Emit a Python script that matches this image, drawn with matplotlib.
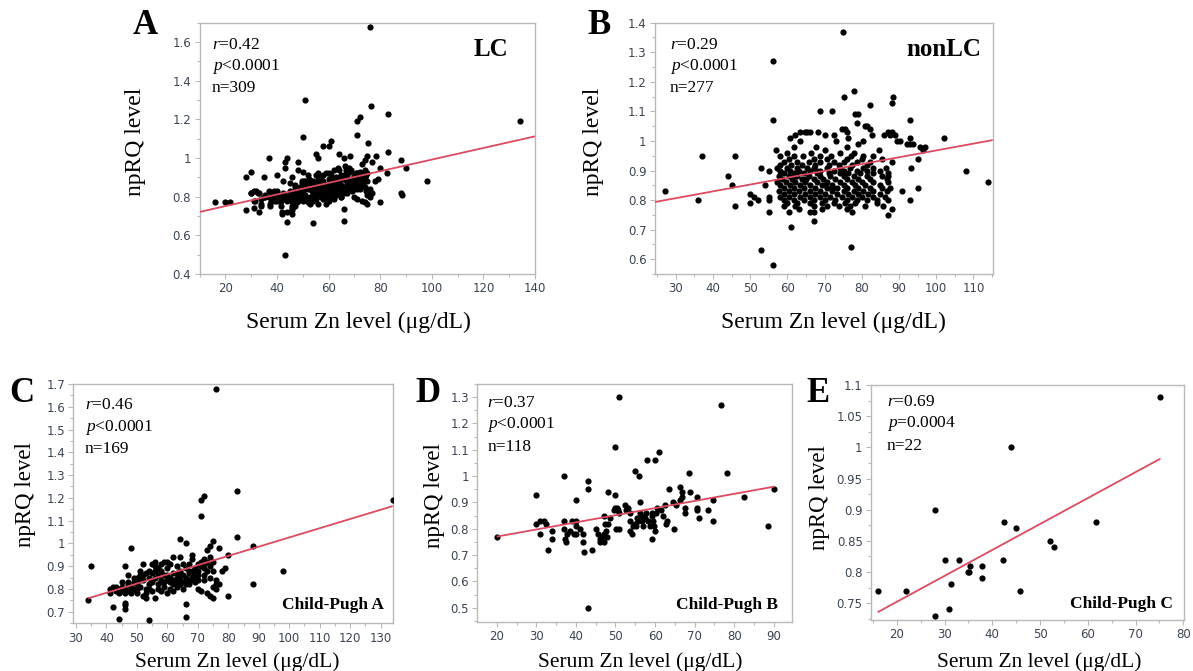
import numpy as np
import matplotlib
matplotlib.use('Agg')
import matplotlib.pyplot as plt
from matplotlib.ticker import MultipleLocator, FuncFormatter

plt.rcParams['mathtext.fontset'] = 'custom'
plt.rcParams['mathtext.rm'] = 'Liberation Serif'
plt.rcParams['mathtext.it'] = 'Liberation Serif:italic'
plt.rcParams['mathtext.bf'] = 'Liberation Serif:bold'

# ---------------- data ----------------
# Child-Pugh A (n=169)
cpA_points = [
    (34, 0.75), (35, 0.90), (41, 0.78), (41, 0.80), (42, 0.72), (42, 0.81), (44, 0.67), (46, 0.71), (46, 0.73), (46, 0.74),
    (46, 0.90), (47, 0.82), (47, 0.83), (48, 0.98), (48, 0.78), (48, 0.79), (49, 0.85), (50, 0.80), (50, 0.78), (50, 0.82),
    (51, 0.84), (51, 0.88), (52, 0.86), (52, 0.91), (52, 0.77), (53, 0.78), (53, 0.80), (53, 0.76), (54, 0.665), (54, 0.88),
    (54, 0.85), (55, 0.83), (55, 0.87), (55, 0.91), (56, 0.92), (56, 0.90), (56, 0.85), (56, 0.76), (57, 0.89), (57, 0.82),
    (57, 0.80), (58, 0.83), (58, 0.79), (58, 0.88), (59, 0.92), (59, 0.86), (59, 0.81), (60, 0.92), (60, 0.84), (60, 0.78),
    (60, 0.89), (61, 0.91), (61, 0.85), (61, 0.83), (61, 0.80), (62, 0.94), (62, 0.87), (62, 0.82), (62, 0.79), (63, 0.90),
    (63, 0.85), (63, 0.83), (63, 0.81), (64, 1.02), (64, 0.94), (64, 0.88), (64, 0.84), (64, 0.82), (65, 0.91), (65, 0.86),
    (65, 0.83), (65, 0.80), (66, 1.00), (66, 0.735), (66, 0.675), (66, 0.89), (66, 0.85), (66, 0.82), (67, 0.88), (67, 0.84),
    (67, 0.87), (68, 0.95), (68, 0.93), (68, 0.88), (68, 0.86), (69, 0.87), (69, 0.85), (69, 0.89), (70, 0.88), (70, 0.86),
    (70, 0.91), (70, 0.80), (71, 1.19), (71, 1.12), (71, 0.92), (71, 0.90), (71, 0.79), (72, 1.21), (72, 0.93), (72, 0.89),
    (72, 0.86), (72, 0.84), (73, 0.97), (73, 0.92), (73, 0.88), (73, 0.78), (74, 0.99), (74, 0.90), (74, 0.85), (74, 0.77),
    (75, 1.01), (75, 0.88), (75, 0.76), (75, 0.81), (76, 1.68), (76, 0.84), (76, 0.82), (76, 0.80), (77, 0.98), (77, 0.82),
    (79, 0.89), (80, 0.95), (80, 0.77), (83, 1.23), (83, 1.03), (88, 0.99), (88, 0.82), (98, 0.88), (134, 1.19),
    (43, 0.79), (43, 0.81), (44, 0.78), (44, 0.80), (45, 0.79), (45, 0.83), (46, 0.80), (46, 0.78), (47, 0.79), (48, 0.81),
    (49, 0.83), (49, 0.80), (50, 0.85), (51, 0.86), (51, 0.81), (52, 0.84), (53, 0.87), (54, 0.82), (54, 0.80), (55, 0.79),
    (57, 0.86), (58, 0.84), (59, 0.83), (60, 0.86), (62, 0.84), (63, 0.87), (67, 0.82), (68, 0.84), (69, 0.83), (70, 0.84),
    (72, 0.91), (74, 0.94), (75, 0.92), (78, 0.88), (45, 0.81), (47, 0.86), (56, 0.88), (58, 0.91), (64, 0.86), (67, 0.91),
]

# Child-Pugh B (n=118)
cpB_points = [
    (20, 0.77), (30, 0.93), (30, 0.82), (31, 0.78), (31, 0.83), (32, 0.83), (32.5, 0.82), (33, 0.72), (34, 0.79), (34, 0.76),
    (37, 1.00), (37, 0.83), (37, 0.80), (37.2, 0.76), (37.5, 0.75), (37.7, 0.78), (38.5, 0.79), (39, 0.83), (40, 0.83), (40, 0.81),
    (40, 0.78), (40, 0.91), (39.4, 0.78), (41, 0.80), (41.7, 0.78), (41.7, 0.75), (42, 0.71), (43, 0.98), (43, 0.95), (43, 0.50),
    (44, 0.72), (45.2, 0.80), (45.7, 0.78), (46.1, 0.76), (46, 0.75), (46.5, 0.77), (47, 0.75), (47.1, 0.78), (47.6, 0.79), (47.9, 0.77),
    (48, 0.94), (47, 0.85), (47.3, 0.82), (48.2, 0.82), (50, 0.93), (49.6, 0.87), (49.9, 0.88), (50.3, 0.88), (50.7, 0.87), (51, 0.86),
    (50, 1.11), (51, 1.30), (50.1, 0.80), (51, 0.80), (52.4, 0.89), (52.6, 0.87), (53.2, 0.88), (53.7, 0.86), (53.7, 0.83), (53.7, 0.79),
    (54.1, 0.78), (54.5, 0.81), (54.9, 0.82), (55.3, 0.81), (55.8, 0.83), (55, 1.02), (56, 1.00), (56.2, 0.90), (56.3, 0.86), (56.6, 0.85),
    (56.8, 0.83), (57, 0.81), (58, 1.06), (60, 1.06), (57.7, 0.86), (58.3, 0.83), (58.7, 0.81), (59.1, 0.86), (59.3, 0.85), (59.1, 0.76),
    (59.5, 0.83), (59.7, 0.81), (59.9, 0.79), (60.2, 0.86), (60.4, 0.88), (61, 1.09), (61.6, 0.87), (62.1, 0.85), (62.7, 0.82), (62.9, 0.83),
    (63.6, 0.95), (62.5, 0.89), (64.6, 0.90), (64.8, 0.80), (65.4, 0.89), (66.4, 0.96), (66.9, 0.94), (67.5, 0.88), (67.5, 0.86), (66.4, 0.91),
    (66.9, 0.92), (68.5, 1.01), (68.8, 0.94), (70.5, 0.92), (70.5, 0.88), (70.6, 0.87), (71.2, 0.84), (73.4, 0.87), (74.5, 0.91), (74.5, 0.83),
    (76.6, 1.27), (78.2, 1.01), (82.5, 0.92), (88.6, 0.81), (90.1, 0.95), (55.5, 0.84), (57.5, 0.84), (48.5, 0.84),
]

# Child-Pugh C (n=22)
cpC_points = [
    (16, 0.77), (22, 0.77), (28, 0.73), (28, 0.90), (30, 0.82), (31, 0.74), (31.4, 0.78), (33, 0.82), (35, 0.80), (35.4, 0.81),
    (37.9, 0.81), (37.9, 0.79), (42.3, 0.82), (42.5, 0.88), (43.9, 1.00), (44.9, 0.87), (45.9, 0.77), (52, 0.85), (53, 0.84), (61.7, 0.88),
    (75.2, 1.08), (35.2, 0.80),
]

# LC = Child-Pugh A + B + C (n=309)
lc_points = cpA_points + cpB_points + cpC_points

# nonLC (n=277)
nonlc_points = [
    (27, 0.83), (36, 0.80), (37, 0.95), (44, 0.88), (45, 0.85), (46, 0.95), (46, 0.78), (50, 0.82), (50, 0.79), (51, 0.81),
    (52, 0.80), (53, 0.91), (53, 0.63), (54, 0.85), (55, 0.90), (55, 0.81), (55, 0.80), (55, 0.76), (56, 1.27), (56, 1.07), (56, 0.58),
    (75.1, 1.15), (88.5, 1.15), (78.0, 1.17), (88.0, 1.13), (82.1, 1.12), (68.8, 1.10), (72.0, 1.10), (78.2, 1.09), (79.1, 1.09),
    (92.9, 1.07), (78.8, 1.06), (80.9, 1.05), (81.5, 1.05), (74.6, 1.04), (75.5, 1.04), (82.2, 1.04),
    (63.5, 1.03), (64.6, 1.03), (65.4, 1.03), (66.2, 1.03), (68.1, 1.03), (76.0, 1.03), (87.1, 1.03), (88.0, 1.03),
    (62.1, 1.02), (70.2, 1.02), (72.4, 1.02), (82.7, 1.02), (86.1, 1.02), (87.5, 1.02), (89.0, 1.02),
    (60.8, 1.01), (76.4, 1.01), (92.9, 1.01), (102.1, 1.01),
    (63.3, 1.00), (73.1, 1.00), (80.4, 1.00), (89.4, 1.00), (90.3, 1.00),
    (79.1, 0.99), (92.1, 0.99), (92.9, 0.99), (93.8, 0.99),
    (61.7, 0.98), (67.8, 0.98), (76.0, 0.98), (95.6, 0.98), (97.0, 0.98),
    (57.0, 0.97), (70.2, 0.97), (84.5, 0.97), (96.5, 0.97),
    (59.9, 0.96), (66.3, 0.96), (74.2, 0.96), (77.8, 0.96),
    (58.1, 0.95), (61.7, 0.95), (64.2, 0.95), (68.8, 0.95), (71.7, 0.95), (77.1, 0.95), (80.4, 0.95), (83.1, 0.95),
    (60.4, 0.94), (67.1, 0.94), (70.6, 0.94), (76.0, 0.94), (80.0, 0.94), (85.4, 0.94), (95.2, 0.94),
    (59.0, 0.93), (62.6, 0.93), (65.7, 0.93), (68.8, 0.93), (72.4, 0.93), (75.1, 0.93), (78.7, 0.93), (82.2, 0.93), (88.0, 0.93),
    (58.1, 0.92), (61.1, 0.92), (63.9, 0.92), (67.5, 0.92), (71.1, 0.92), (73.8, 0.92), (77.3, 0.92), (81.3, 0.92),
    (57.2, 0.91), (59.9, 0.91), (62.6, 0.91), (65.3, 0.91), (67.1, 0.91), (70.6, 0.91), (74.2, 0.91), (76.9, 0.91), (80.4, 0.91),
    (83.1, 0.91), (86.5, 0.91), (93.2, 0.91),
    (58.1, 0.90), (60.8, 0.90), (63.0, 0.90), (66.2, 0.90), (68.8, 0.90), (72.4, 0.90), (75.1, 0.90), (78.7, 0.90), (81.5, 0.90), (84.9, 0.90),
    (59.0, 0.89), (61.7, 0.89), (64.4, 0.89), (67.9, 0.89), (71.1, 0.89), (74.2, 0.89), (76.4, 0.89), (79.6, 0.89), (83.1, 0.89), (87.1, 0.89),
    (57.7, 0.88), (60.4, 0.88), (62.6, 0.88), (65.7, 0.88), (68.8, 0.88), (71.5, 0.88), (75.1, 0.88), (77.8, 0.88), (81.3, 0.88),
    (85.4, 0.88), (87.1, 0.88),
    (58.6, 0.87), (61.3, 0.87), (63.9, 0.87), (67.1, 0.87), (69.7, 0.87), (72.9, 0.87), (76.0, 0.87), (79.1, 0.87), (82.2, 0.87), (86.7, 0.87),
    (57.2, 0.86), (59.5, 0.86), (62.1, 0.86), (64.8, 0.86), (67.9, 0.86), (70.6, 0.86), (74.2, 0.86), (77.3, 0.86), (80.0, 0.86),
    (83.1, 0.86), (87.1, 0.86), (113.9, 0.86),
    (58.1, 0.85), (60.8, 0.85), (63.5, 0.85), (66.2, 0.85), (69.3, 0.85), (71.9, 0.85), (75.1, 0.85), (78.2, 0.85), (80.9, 0.85), (84.9, 0.85),
    (59.0, 0.84), (61.7, 0.84), (64.4, 0.84), (67.5, 0.84), (70.6, 0.84), (73.3, 0.84), (76.0, 0.84), (79.1, 0.84), (82.2, 0.84),
    (85.4, 0.84), (87.6, 0.84), (95.2, 0.84),
    (57.7, 0.83), (60.4, 0.83), (63.0, 0.83), (66.2, 0.83), (68.8, 0.83), (72.0, 0.83), (75.1, 0.83), (77.8, 0.83), (80.4, 0.83),
    (83.1, 0.83), (86.7, 0.83), (90.7, 0.83),
    (59.0, 0.82), (61.7, 0.82), (64.8, 0.82), (67.5, 0.82), (70.2, 0.82), (73.3, 0.82), (76.4, 0.82), (79.1, 0.82), (81.8, 0.82), (84.9, 0.82),
    (58.1, 0.81), (60.4, 0.81), (63.5, 0.81), (66.2, 0.81), (68.8, 0.81), (71.5, 0.81), (74.6, 0.81), (77.3, 0.81), (80.0, 0.81),
    (83.1, 0.81), (86.3, 0.81),
    (59.0, 0.80), (61.7, 0.80), (64.4, 0.80), (67.1, 0.80), (70.2, 0.80), (72.9, 0.80), (76.0, 0.80), (78.7, 0.80), (81.3, 0.80),
    (84.0, 0.80), (87.1, 0.80), (92.9, 0.80),
    (59.9, 0.79), (62.6, 0.79), (66.2, 0.79), (69.3, 0.79), (72.4, 0.79), (75.5, 0.79), (78.2, 0.79), (84.0, 0.79),
    (59.0, 0.78), (62.1, 0.78), (67.1, 0.78), (70.6, 0.78), (73.8, 0.78), (76.9, 0.78), (80.9, 0.78), (85.8, 0.78),
    (63.0, 0.77), (69.3, 0.77), (76.0, 0.77), (88.0, 0.77),
    (60.4, 0.76), (66.2, 0.76), (67.1, 0.76), (77.3, 0.76),
    (87.1, 0.75), (67.1, 0.73), (61.0, 0.71), (77.1, 0.64), (75.0, 1.37), (108.1, 0.90),
    (65.0, 0.87), (68.0, 0.90), (70.0, 0.85), (72.0, 0.84), (62.0, 0.88),
]

# regression lines: (intercept, slope)
fit_lc = (0.691, 0.003008)
fit_nonlc = (0.7373, 0.002306)
fit_cpA = (0.621, 0.00405)
fit_cpB = (0.716, 0.00271)
fit_cpC = (0.669, 0.00416)

stats_lc = ("r", "=0.42", "p", "<0.0001", "n=309")
stats_nonlc = ("r", "=0.29", "p", "<0.0001", "n=277")
stats_cpA = ("r", "=0.46", "p", "<0.0001", "n=169")
stats_cpB = ("r", "=0.37", "p", "<0.0001", "n=118")
stats_cpC = ("r", "=0.69", "p", "=0.0004", "n=22")

XLABEL = "Serum Zn level (\u03bcg/dL)"
YLABEL = "npRQ level"

# ---------------- figure ----------------
W, H = 1193, 671
fig = plt.figure(figsize=(W / 100, H / 100), dpi=100)
fig.patch.set_facecolor('white')

SERIF = 'Liberation Serif'
SPINE = '#b9b9b9'
TICKLAB = '#3c4452'
RED = '#dc4a5e'


def fx(px):
    return px / W


def fy(py):
    return 1 - py / H


def rect(l, t, r, b):
    return [fx(l), fy(b), (r - l) / W, (b - t) / H]


def fmt(v, pos):
    return '%g' % round(v, 4)


panels = [
    dict(pts=lc_points, rect=rect(199.5, 22.7, 535, 274), xlim=(10, 140), ylim=(0.4, 1.7),
         xmaj=20, xmin=10, ymaj=0.2, ymin=0.1, fit=fit_lc, fullline=True,
         xlab=(0.473, -0.191), ylab=(-0.192, 0.526), xfs=17, yfs=17,
         letter='A', lpos=(145, 25), stats=stats_lc, spos=(211.7, 45, 21.7),
         grp='LC', gpos=(508, 50), gfs=18),
    dict(pts=nonlc_points, rect=rect(655, 22.7, 992.7, 274), xlim=(24.4, 115.2), ylim=(0.55, 1.4),
         xmaj=10, xmin=5, ymaj=0.1, ymin=0.05, fit=fit_nonlc, fullline=True,
         xlab=(0.527, -0.191), ylab=(-0.181, 0.526), xfs=17, yfs=17,
         letter='B', lpos=(599, 26), stats=stats_nonlc, spos=(670, 45, 21.7),
         grp='nonLC', gpos=(981.7, 50), gfs=18),
    dict(pts=cpA_points, rect=rect(73.3, 384, 392.7, 623.3), xlim=(29.1, 134), ylim=(0.649, 1.7),
         xmaj=10, xmin=5, ymaj=0.1, ymin=0.05, fit=fit_cpA, fullline=False,
         xlab=(0.514, -0.162), ylab=(-0.149, 0.536), xfs=15.5, yfs=16.5,
         letter='C', lpos=(21.5, 393), stats=stats_cpA, spos=(85, 405, 22.2),
         grp='Child-Pugh A', gpos=(384, 605), gfs=12.5),
    dict(pts=cpB_points, rect=rect(477.3, 384, 791.7, 621.7), xlim=(15.1, 94.5), ylim=(0.447, 1.35),
         xmaj=10, xmin=5, ymaj=0.1, ymin=0.05, fit=fit_cpB, fullline=False,
         xlab=(0.517, -0.170), ylab=(-0.135, 0.529), xfs=15.5, yfs=16.5,
         letter='D', lpos=(428, 393), stats=stats_cpB, spos=(487.3, 402.7, 22.3),
         grp='Child-Pugh B', gpos=(778.3, 605), gfs=12.5),
    dict(pts=cpC_points, rect=rect(871, 385, 1184.3, 620), xlim=(14.6, 80.2), ylim=(0.723, 1.1),
         xmaj=10, xmin=5, ymaj=0.05, ymin=0.025, fit=fit_cpC, fullline=False,
         xlab=(0.536, -0.179), ylab=(-0.163, 0.519), xfs=15.5, yfs=16.5,
         letter='E', lpos=(818, 393), stats=stats_cpC, spos=(886.7, 401.7, 22.2),
         grp='Child-Pugh C', gpos=(1173.3, 604.3), gfs=12.5),
]

for p in panels:
    ax = fig.add_axes(p['rect'])
    xs = np.array([q[0] for q in p['pts']], dtype=float)
    ys = np.array([q[1] for q in p['pts']], dtype=float)
    ax.scatter(xs, ys, s=20, c='black', linewidths=0, zorder=3)
    b0, b1 = p['fit']
    if p['fullline']:
        lx = np.array(p['xlim'])
    else:
        lx = np.array([xs.min(), xs.max()])
    ax.plot(lx, b0 + b1 * lx, color=RED, lw=1.3, zorder=4, solid_capstyle='butt')
    ax.set_xlim(*p['xlim'])
    ax.set_ylim(*p['ylim'])
    ax.xaxis.set_major_locator(MultipleLocator(p['xmaj']))
    ax.xaxis.set_minor_locator(MultipleLocator(p['xmin']))
    ax.yaxis.set_major_locator(MultipleLocator(p['ymaj']))
    ax.yaxis.set_minor_locator(MultipleLocator(p['ymin']))
    ax.xaxis.set_major_formatter(FuncFormatter(fmt))
    ax.yaxis.set_major_formatter(FuncFormatter(fmt))
    for s in ax.spines.values():
        s.set_color(SPINE)
        s.set_linewidth(1.0)
    ax.tick_params(which='major', direction='out', length=3.5, width=0.8, color=SPINE,
                   labelsize=8.5, labelcolor=TICKLAB, pad=2.5)
    ax.tick_params(which='minor', direction='out', length=2, width=0.8, color=SPINE)
    for lab in ax.get_xticklabels() + ax.get_yticklabels():
        lab.set_family('DejaVu Sans')
    ax.set_xlabel(XLABEL, family=SERIF, fontsize=p['xfs'])
    ax.set_ylabel(YLABEL, family=SERIF, fontsize=p['yfs'])
    ax.xaxis.set_label_coords(*p['xlab'])
    ax.xaxis.label.set_va('center')
    ax.yaxis.set_label_coords(*p['ylab'])
    ax.yaxis.label.set_va('center')

    # panel letter
    fig.text(fx(p['lpos'][0]), fy(p['lpos'][1]), p['letter'], family=SERIF, fontweight='bold',
             fontsize=25, ha='center', va='center')
    # stats
    sx, sy, dy = p['spos']
    r_, rv, p_, pv, n_ = p['stats']
    fig.text(fx(sx), fy(sy), '$\\mathit{%s}$%s' % (r_, rv), family=SERIF, fontsize=12.5, ha='left', va='center')
    fig.text(fx(sx), fy(sy + dy), '$\\mathit{%s}$%s' % (p_, pv), family=SERIF, fontsize=12.5,
             ha='left', va='center')
    fig.text(fx(sx), fy(sy + 2 * dy), n_, family=SERIF, fontsize=12.5, ha='left', va='center')
    # group label
    fig.text(fx(p['gpos'][0]), fy(p['gpos'][1]), p['grp'], family=SERIF, fontweight='bold',
             fontsize=p['gfs'], ha='right', va='center')

fig.savefig('out.png', dpi=100, facecolor='white')
